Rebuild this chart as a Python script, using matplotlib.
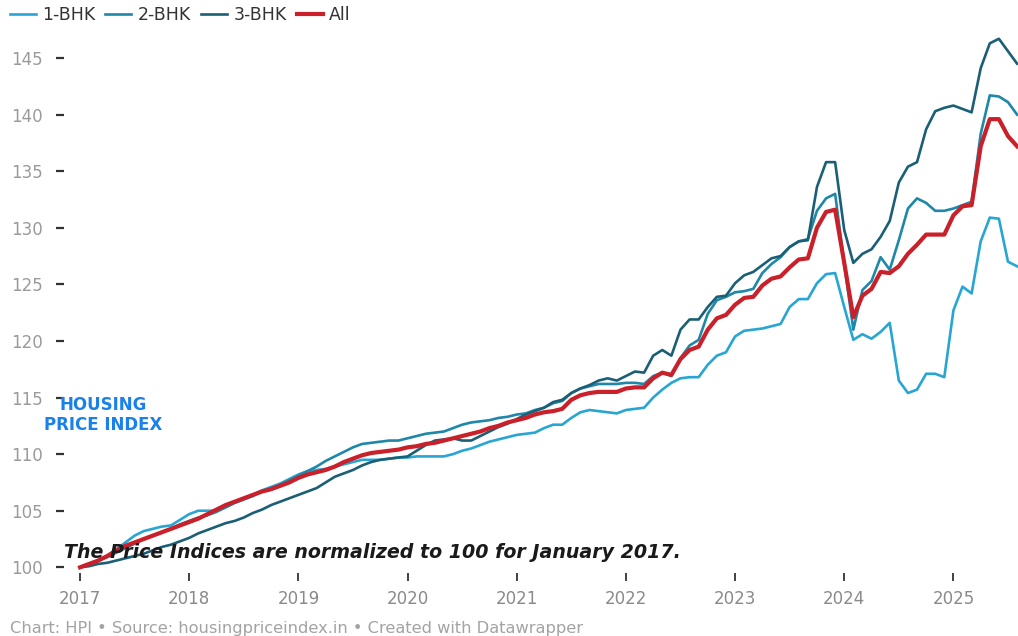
import matplotlib
matplotlib.use("Agg")
import matplotlib.pyplot as plt
import numpy as np

# monthly index values, Jan 2017 .. Aug 2025 (Jan 2017 = 100)
bhk1 = [100.0, 100.3, 100.6, 101.0, 101.6, 102.2, 102.8, 103.2, 103.4, 103.6, 103.7, 104.2,
        104.7, 105.0, 105.0, 105.0, 105.3, 105.7, 106.0, 106.4, 106.8, 107.1, 107.4, 107.8,
        108.2, 108.5, 108.6, 108.7, 108.9, 109.1, 109.3, 109.5, 109.5, 109.5, 109.6, 109.7,
        109.7, 109.8, 109.8, 109.8, 109.8, 110.0, 110.3, 110.5, 110.8, 111.1, 111.3, 111.5,
        111.7, 111.8, 111.9, 112.3, 112.6, 112.6, 113.2, 113.7, 113.9, 113.8, 113.7, 113.6,
        113.9, 114.0, 114.1, 115.0, 115.7, 116.3, 116.7, 116.8, 116.8, 117.9, 118.7, 119.0,
        120.4, 120.9, 121.0, 121.1, 121.3, 121.5, 123.0, 123.7, 123.7, 125.1, 125.9, 126.0,
        123.0, 120.1, 120.6, 120.2, 120.8, 121.6, 116.5, 115.4, 115.7, 117.1, 117.1, 116.8,
        122.7, 124.8, 124.2, 128.8, 130.9, 130.8, 127.0, 126.6]
bhk2 = [100.0, 100.3, 100.6, 100.9, 101.3, 101.7, 102.1, 102.5, 102.8, 103.1, 103.4, 103.8,
        104.1, 104.4, 104.6, 104.9, 105.3, 105.7, 106.0, 106.3, 106.7, 107.0, 107.3, 107.7,
        108.1, 108.5, 108.9, 109.4, 109.8, 110.2, 110.6, 110.9, 111.0, 111.1, 111.2, 111.2,
        111.4, 111.6, 111.8, 111.9, 112.0, 112.3, 112.6, 112.8, 112.9, 113.0, 113.2, 113.3,
        113.5, 113.6, 113.9, 114.1, 114.5, 114.7, 115.4, 115.8, 116.0, 116.2, 116.2, 116.2,
        116.3, 116.3, 116.2, 116.9, 117.2, 116.9, 118.5, 119.6, 120.1, 122.4, 123.6, 123.9,
        124.3, 124.4, 124.6, 126.0, 126.8, 127.4, 128.3, 128.8, 129.0, 131.5, 132.6, 133.0,
        126.8, 121.0, 124.5, 125.3, 127.4, 126.3, 128.9, 131.7, 132.6, 132.2, 131.5, 131.5,
        131.7, 132.0, 132.3, 138.3, 141.7, 141.6, 141.1, 140.0]
bhk3 = [100.0, 100.1, 100.3, 100.4, 100.6, 100.8, 101.0, 101.2, 101.5, 101.8, 102.0, 102.3,
        102.6, 103.0, 103.3, 103.6, 103.9, 104.1, 104.4, 104.8, 105.1, 105.5, 105.8, 106.1,
        106.4, 106.7, 107.0, 107.5, 108.0, 108.3, 108.6, 109.0, 109.3, 109.5, 109.6, 109.7,
        109.8, 110.3, 110.8, 111.2, 111.3, 111.4, 111.2, 111.2, 111.6, 112.0, 112.4, 112.7,
        113.1, 113.5, 113.8, 114.1, 114.6, 114.8, 115.4, 115.8, 116.1, 116.5, 116.7, 116.5,
        116.9, 117.3, 117.2, 118.7, 119.2, 118.7, 121.0, 121.9, 121.9, 123.0, 123.9, 124.0,
        125.1, 125.8, 126.1, 126.7, 127.3, 127.5, 128.3, 128.8, 128.9, 133.6, 135.8, 135.8,
        129.8, 126.9, 127.7, 128.1, 129.2, 130.6, 134.0, 135.4, 135.8, 138.7, 140.3, 140.6,
        140.8, 140.5, 140.2, 144.1, 146.3, 146.7, 145.6, 144.5]
all_units = [100.0, 100.3, 100.6, 101.0, 101.5, 101.9, 102.2, 102.5, 102.8, 103.1, 103.4, 103.7,
             104.0, 104.3, 104.7, 105.1, 105.5, 105.8, 106.1, 106.4, 106.7, 106.9, 107.2, 107.5,
             107.9, 108.2, 108.4, 108.6, 108.9, 109.3, 109.6, 109.9, 110.1, 110.2, 110.3, 110.4,
             110.6, 110.7, 110.9, 111.0, 111.2, 111.4, 111.6, 111.8, 112.0, 112.3, 112.5, 112.8,
             113.0, 113.2, 113.5, 113.7, 113.8, 114.0, 114.8, 115.2, 115.4, 115.5, 115.5, 115.5,
             115.8, 115.9, 115.9, 116.7, 117.2, 117.0, 118.4, 119.2, 119.5, 121.0, 122.0, 122.3,
             123.2, 123.8, 123.9, 124.9, 125.5, 125.7, 126.5, 127.2, 127.3, 130.0, 131.4, 131.6,
             126.9, 122.1, 124.0, 124.6, 126.1, 126.0, 126.6, 127.7, 128.5, 129.4, 129.4, 129.4,
             131.1, 131.9, 132.0, 137.2, 139.6, 139.6, 138.1, 137.2]

series_names = ["1-BHK", "2-BHK", "3-BHK", "All"]
series_colors = ["#27a6d3", "#1f87a8", "#1a5f76", "#c9202a"]
year_ticks = list(range(2017, 2026))
value_ticks = list(range(100, 150, 5))

t = 2017 + np.arange(len(all_units)) / 12

fig = plt.figure(figsize=(10.18, 6.36), dpi=100)
ax = fig.add_axes([0.0629, 0.0991, 0.9371, 0.8538])

for vals, name, col in zip([bhk1, bhk2, bhk3], series_names[:3], series_colors[:3]):
    ax.plot(t, vals, color=col, lw=1.9, label=name)
ax.plot(t, all_units, color=series_colors[3], lw=3.0, label=series_names[3], zorder=5)

ax.set_xlim(2017 - 1.76 / 12, 2017 + 103.1 / 12)
ax.set_ylim(99.5, 147.48)
for s in ax.spines.values():
    s.set_visible(False)

ax.set_xticks(year_ticks)
ax.set_xticklabels([str(y) for y in year_ticks])
ax.set_yticks(value_ticks)
ax.set_yticklabels([str(v) for v in value_ticks])
ax.tick_params(axis="y", length=6, width=1.6, color="#333333", pad=9,
               labelsize=12, labelcolor="#9a9a9a")
ax.tick_params(axis="x", length=6, width=1.3, color="#333333", pad=6,
               labelsize=12, labelcolor="#8a8a8a")

ax.text(0.041, 0.291, "HOUSING\nPRICE INDEX", transform=ax.transAxes,
        ha="center", va="center", color="#1a80ea", fontsize=12,
        fontweight="bold", linespacing=1.15, zorder=10)

ax.text(0.0, 0.037, "The Price Indices are normalized to 100 for January 2017.",
        transform=ax.transAxes, ha="left", va="center", color="#1a1a1a",
        fontsize=13.7, fontweight="bold", fontstyle="italic", zorder=10)

fig.legend(loc="upper left", bbox_to_anchor=(0.0, 1.005), ncol=4, frameon=False,
           fontsize=12.5, handlelength=1.5, handletextpad=0.35, columnspacing=0.6,
           labelcolor="#333333", borderaxespad=0.15)

fig.text(0.01, 0.0, "Chart: HPI \u2022 Source: housingpriceindex.in \u2022 Created with Datawrapper",
         ha="left", va="bottom", color="#a3a3a3", fontsize=11.7)

fig.savefig("out.png", dpi=100)
